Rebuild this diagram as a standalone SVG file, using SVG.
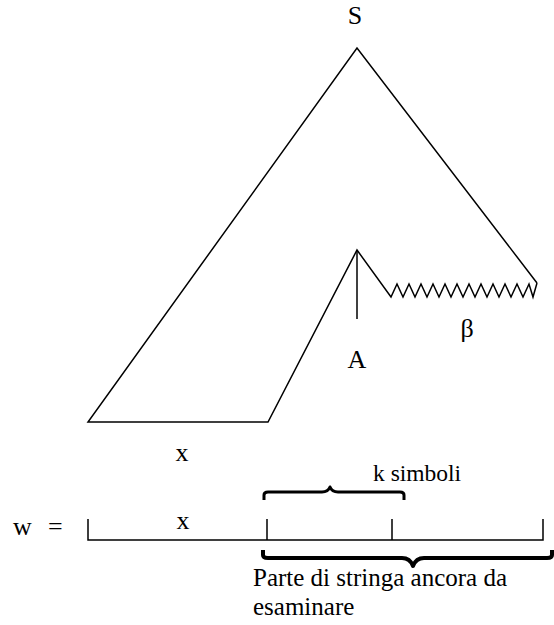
<svg xmlns="http://www.w3.org/2000/svg" width="554" height="625" viewBox="0 0 554 625">
<style>
.ln{fill:none;stroke:#000;stroke-width:1.5;stroke-linejoin:miter}
.br{fill:none;stroke:#000;stroke-linecap:butt;stroke-linejoin:round}
text{font-family:"Liberation Serif","Times New Roman",serif;fill:#000}
.t{font-size:26px}
.s{font-size:23.5px}
.p{font-size:25px}
</style>
<rect width="554" height="625" fill="#fff"/>
<g id="tree">
<path class="ln" d="M537,283 L357,48 L88,422 L268,422 L357,250 L391,297 L397,284 L403,297 L409,284 L415,297 L421,284 L427,297 L433,284 L439,297 L445,284 L451,297 L457,284 L463,297 L469,284 L475,297 L481,284 L487,297 L493,284 L499,297 L505,284 L511,297 L517,284 L523,297 L529,284 L533,297 L537,283"/>
<line class="ln" x1="357" y1="250" x2="357" y2="319"/>
</g>
<g id="labels">
<text class="t" x="355" y="24" text-anchor="middle">S</text>
<text class="t" x="357" y="368" text-anchor="middle">A</text>
<text class="t" x="467" y="337" text-anchor="middle">β</text>
<text class="t" x="182" y="461" text-anchor="middle">x</text>
</g>
<g id="string">
<text class="t" x="13" y="535">w</text>
<text class="t" x="48" y="535">=</text>
<text class="t" x="183" y="529" text-anchor="middle">x</text>
<path class="ln" d="M88,519 V540 H543 V519 M267,519 V540 M392,519 V540"/>
</g>
<g id="brace-k">
<path class="br" stroke-width="3" d="M264,500 V495 Q264,492 268,492 H322 Q328,492 330,487 Q332,492 338,492 H400 Q404,492 404,495 V500"/>
<text class="s" x="373" y="481">k simboli</text>
</g>
<g id="brace-rest">
<path class="br" stroke-width="4" d="M263,550 V555 Q263,558 268,558 H402 Q410,558 413,566 Q416,558 424,558 H547 Q552,558 552,555 V550"/>
<text class="p" x="253" y="586">Parte di stringa ancora da</text>
<text class="p" x="253" y="615">esaminare</text>
</g>
</svg>
